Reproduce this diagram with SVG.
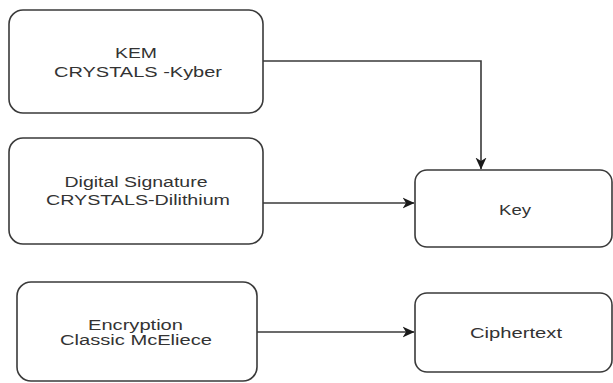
<svg xmlns="http://www.w3.org/2000/svg" width="613" height="383" viewBox="0 0 613 383">
<style>
.box{fill:#fff;stroke:#3a3a3a;stroke-width:1.6}
.lbl{font-family:"Liberation Sans",Arial,sans-serif;font-size:14px;fill:#333;text-anchor:middle}
.edge{fill:none;stroke:#3a3a3a;stroke-width:1.6}
</style>
<defs>
<marker id="arr" viewBox="0 0 12 12" refX="11.5" refY="6" markerWidth="12" markerHeight="12" markerUnits="userSpaceOnUse" orient="auto">
<path d="M0,0.5 L12,6 L0,11.5 L3.5,6 Z" fill="#1a1a1a"/>
</marker>
</defs>
<rect width="613" height="383" fill="#fff"/>
<g id="connectors">
<path class="edge" d="M263,61 H481 V169" marker-end="url(#arr)"/>
<path class="edge" d="M263,203 H414" marker-end="url(#arr)"/>
<path class="edge" d="M257,332 H414" marker-end="url(#arr)"/>
</g>
<g id="kem">
<rect class="box" x="9" y="10" width="254" height="103" rx="14"/>
<text class="lbl" x="136" y="57.5" textLength="42" lengthAdjust="spacingAndGlyphs">KEM</text>
<text class="lbl" x="138" y="77" textLength="168" lengthAdjust="spacingAndGlyphs">CRYSTALS -Kyber</text>
</g>
<g id="signature">
<rect class="box" x="9" y="138" width="254" height="106" rx="14"/>
<text class="lbl" x="136" y="186.5" textLength="143" lengthAdjust="spacingAndGlyphs">Digital Signature</text>
<text class="lbl" x="138" y="205" textLength="184" lengthAdjust="spacingAndGlyphs">CRYSTALS-Dilithium</text>
</g>
<g id="encryption">
<rect class="box" x="17" y="282" width="240" height="99" rx="14"/>
<text class="lbl" x="135.5" y="329.5" textLength="95" lengthAdjust="spacingAndGlyphs">Encryption</text>
<text class="lbl" x="136" y="345" textLength="152" lengthAdjust="spacingAndGlyphs">Classic McEliece</text>
</g>
<g id="key">
<rect class="box" x="415" y="170" width="197" height="77" rx="12"/>
<text class="lbl" x="515" y="214.5" textLength="32" lengthAdjust="spacingAndGlyphs">Key</text>
</g>
<g id="ciphertext">
<rect class="box" x="415" y="293" width="197" height="79" rx="12"/>
<text class="lbl" x="516" y="338" textLength="92" lengthAdjust="spacingAndGlyphs">Ciphertext</text>
</g>
</svg>
